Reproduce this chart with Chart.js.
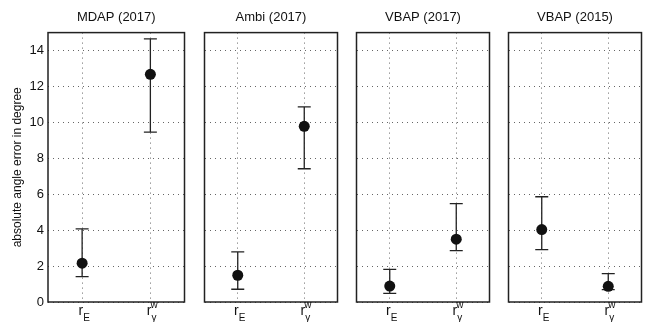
<!DOCTYPE html>
<html>
<head>
<meta charset="utf-8">
<script src="https://cdn.jsdelivr.net/npm/chart.js@4"></script>
<style>
  body{margin:0;background:#fff;}
  #wrap{position:relative;width:649px;height:322px;}
  #wrap canvas{position:absolute;top:0;}
</style>
</head>
<body>
<div id="wrap">
  <canvas id="c0" width="190" height="322" style="left:0px"></canvas>
  <canvas id="c1" width="144" height="322" style="left:199px"></canvas>
  <canvas id="c2" width="144" height="322" style="left:351px"></canvas>
  <canvas id="c3" width="144" height="322" style="left:503px"></canvas>
</div>
<script>
// data
const panelTitles = ['MDAP (2017)', 'Ambi (2017)', 'VBAP (2017)', 'VBAP (2015)'];
const measures = ['rE', 'rγw'];
const labelBase = ['r', 'r'];
const labelSub = ['E', 'γ'];
const labelSup = ['', 'w'];
const yTicks = [0, 2, 4, 6, 8, 10, 12, 14];

const mdapMean = [2.16, 12.68], mdapLow = [1.41, 9.46], mdapHigh = [4.07, 14.65];
const ambiMean = [1.49, 9.78],  ambiLow = [0.71, 7.42], ambiHigh = [2.79, 10.86];
const vbap17Mean = [0.89, 3.50], vbap17Low = [0.48, 2.86], vbap17High = [1.82, 5.48];
const vbap15Mean = [4.03, 0.87], vbap15Low = [2.92, 0.69], vbap15High = [5.86, 1.58];

const FONT = 'Liberation Sans, Arial, Helvetica, sans-serif';
const INK = '#111';

const errorBars = {
  id: 'errorBars',
  beforeDatasetsDraw(chart){
    const {ctx, scales:{x, y}} = chart;
    const ds = chart.data.datasets[0];
    ctx.save();
    ctx.strokeStyle = '#222';
    ctx.lineWidth = 1.3;
    ds.data.forEach((v, i) => {
      const px = x.getPixelForValue(i);
      const t = y.getPixelForValue(ds.high[i]);
      const b = y.getPixelForValue(ds.low[i]);
      ctx.beginPath();
      ctx.moveTo(px, t); ctx.lineTo(px, b);
      ctx.moveTo(px - 6.5, t); ctx.lineTo(px + 6.5, t);
      ctx.moveTo(px - 6.5, b); ctx.lineTo(px + 6.5, b);
      ctx.stroke();
    });
    ctx.restore();
  },
  afterDraw(chart){
    const {ctx, chartArea:a, scales:{x}} = chart;
    ctx.save();
    ctx.strokeStyle = '#222';
    ctx.lineWidth = 1.5;
    ctx.strokeRect(a.left, a.top, a.right - a.left, a.bottom - a.top);
    ctx.fillStyle = INK;
    ctx.textBaseline = 'alphabetic';
    measures.forEach((m, i) => {
      const px = x.getPixelForValue(i);
      ctx.font = '14px ' + FONT;
      ctx.textAlign = 'right';
      ctx.fillText(labelBase[i], px + 1, 315);
      ctx.font = '10px ' + FONT;
      ctx.textAlign = 'left';
      ctx.fillText(labelSub[i], px + 1, 321);
      if (labelSup[i]) ctx.fillText(labelSup[i], px + 0, 308);
    });
    ctx.restore();
  }
};

function makeChart(id, title, mean, low, high, showY){
  return new Chart(document.getElementById(id), {
    type: 'line',
    data: {
      labels: measures,
      datasets: [{
        data: mean, low, high,
        showLine: false,
        pointRadius: 5.5,
        pointBackgroundColor: INK,
        pointBorderColor: INK,
        pointBorderWidth: 0
      }]
    },
    plugins: [errorBars],
    options: {
      responsive: false,
      animation: false,
      layout: { padding: { left: showY ? 0 : 2, right: 2, top: 0, bottom: 0 } },
      plugins: {
        legend: { display: false },
        tooltip: { enabled: false },
        title: {
          display: true, text: title, color: INK, fullSize: false,
          font: { size: 13, family: FONT, weight: 'normal' },
          padding: { top: 10, bottom: 7 }
        }
      },
      scales: {
        x: {
          offset: true,
          grid: { offset: false, color: '#666', lineWidth: 1, drawTicks: false },
          border: { display: false, dash: [1, 4] },
          ticks: { display: false },
          afterFit(s){ s.height = 20; }
        },
        y: {
          min: 0, max: 15,
          afterBuildTicks(s){ s.ticks = yTicks.map(v => ({ value: v })); },
          grid: { color: '#666', lineWidth: 1, drawTicks: false },
          border: { display: false, dash: [1, 4] },
          ticks: {
            display: showY, color: INK, padding: 4,
            font: { size: 13, family: FONT }
          },
          title: {
            display: showY, text: 'absolute angle error in degree', color: INK,
            font: { size: 12, family: FONT }, padding: { top: 10, bottom: 0 }
          },
          afterFit(s){ s.width = showY ? 48 : 0; }
        }
      }
    }
  });
}

makeChart('c0', panelTitles[0], mdapMean, mdapLow, mdapHigh, true);
makeChart('c1', panelTitles[1], ambiMean, ambiLow, ambiHigh, false);
makeChart('c2', panelTitles[2], vbap17Mean, vbap17Low, vbap17High, false);
makeChart('c3', panelTitles[3], vbap15Mean, vbap15Low, vbap15High, false);
</script>
</body>
</html>
